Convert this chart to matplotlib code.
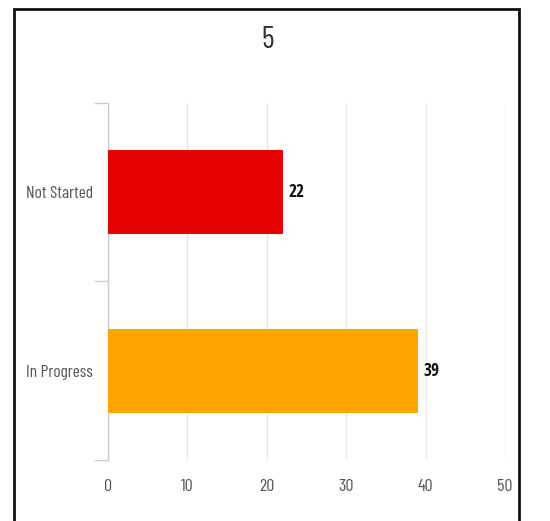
import matplotlib
matplotlib.use("Agg")
import matplotlib.pyplot as plt
from matplotlib.patches import Rectangle
from matplotlib import font_manager

# Chart data
title = "5"
categories = ["Not Started", "In Progress"]
values = [22, 39]
bar_colors = ["#e60000", "#ffa500"]
x_ticks = [0, 10, 20, 30, 40, 50]

installed = {f.name for f in font_manager.fontManager.ttflist}
label_family = next((n for n in ["Barlow Condensed", "Roboto Condensed", "Archivo Narrow"]
                     if n in installed), "DejaVu Sans")
bold_family = "Open Sans Condensed" if "Open Sans Condensed" in installed else label_family
plt.rcParams["font.family"] = [label_family, "DejaVu Sans"]

W, H = 550, 521
fig = plt.figure(figsize=(W / 100, H / 100), dpi=100)
fig.patch.set_facecolor("white")

# outer frame
fig.patches.append(Rectangle((13.5 / W, -0.05), (518.5 - 13.5) / W, 1.05 - 9.5 / H,
                             transform=fig.transFigure, fill=False,
                             edgecolor="#111111", linewidth=2.0, zorder=10))

left, right, top, bottom = 108, 505, 103, 460
ax = fig.add_axes([left / W, 1 - bottom / H, (right - left) / W, (bottom - top) / H])

ypos = list(range(len(categories)))
ax.barh(ypos, values, height=0.47, color=bar_colors, zorder=3)
for y, v in zip(ypos, values):
    ax.text(v + 0.7, y, str(v), va="center", ha="left", fontsize=12.5,
            family=[bold_family, "DejaVu Sans"], fontweight="bold",
            color="#111111", zorder=4)

ax.set_xlim(0, 50)
ax.set_ylim(len(categories) - 0.5, -0.5)
ax.set_xticks(x_ticks)
ax.set_xticklabels([str(t) for t in x_ticks], fontsize=13, color="#555555")
ax.tick_params(axis="x", length=0, pad=14)
ax.grid(axis="x", color="#e6e6e6", linewidth=1, zorder=0)

ax.set_yticks(ypos)
ax.set_yticklabels(categories, fontsize=12.5, color="#555555")
ax.tick_params(axis="y", length=0, pad=11)
ax.set_yticks([-0.5, 0.5, 1.5], minor=True)
ax.tick_params(axis="y", which="minor", length=10, color="#cccccc", width=1)

for s in ["top", "right", "bottom"]:
    ax.spines[s].set_visible(False)
ax.spines["left"].set_color("#cccccc")
ax.spines["left"].set_linewidth(1)

fig.text(268 / W, 1 - 40 / H, title, ha="center", va="center",
         fontsize=22, color="#333333")

fig.savefig("out.png", dpi=100)
